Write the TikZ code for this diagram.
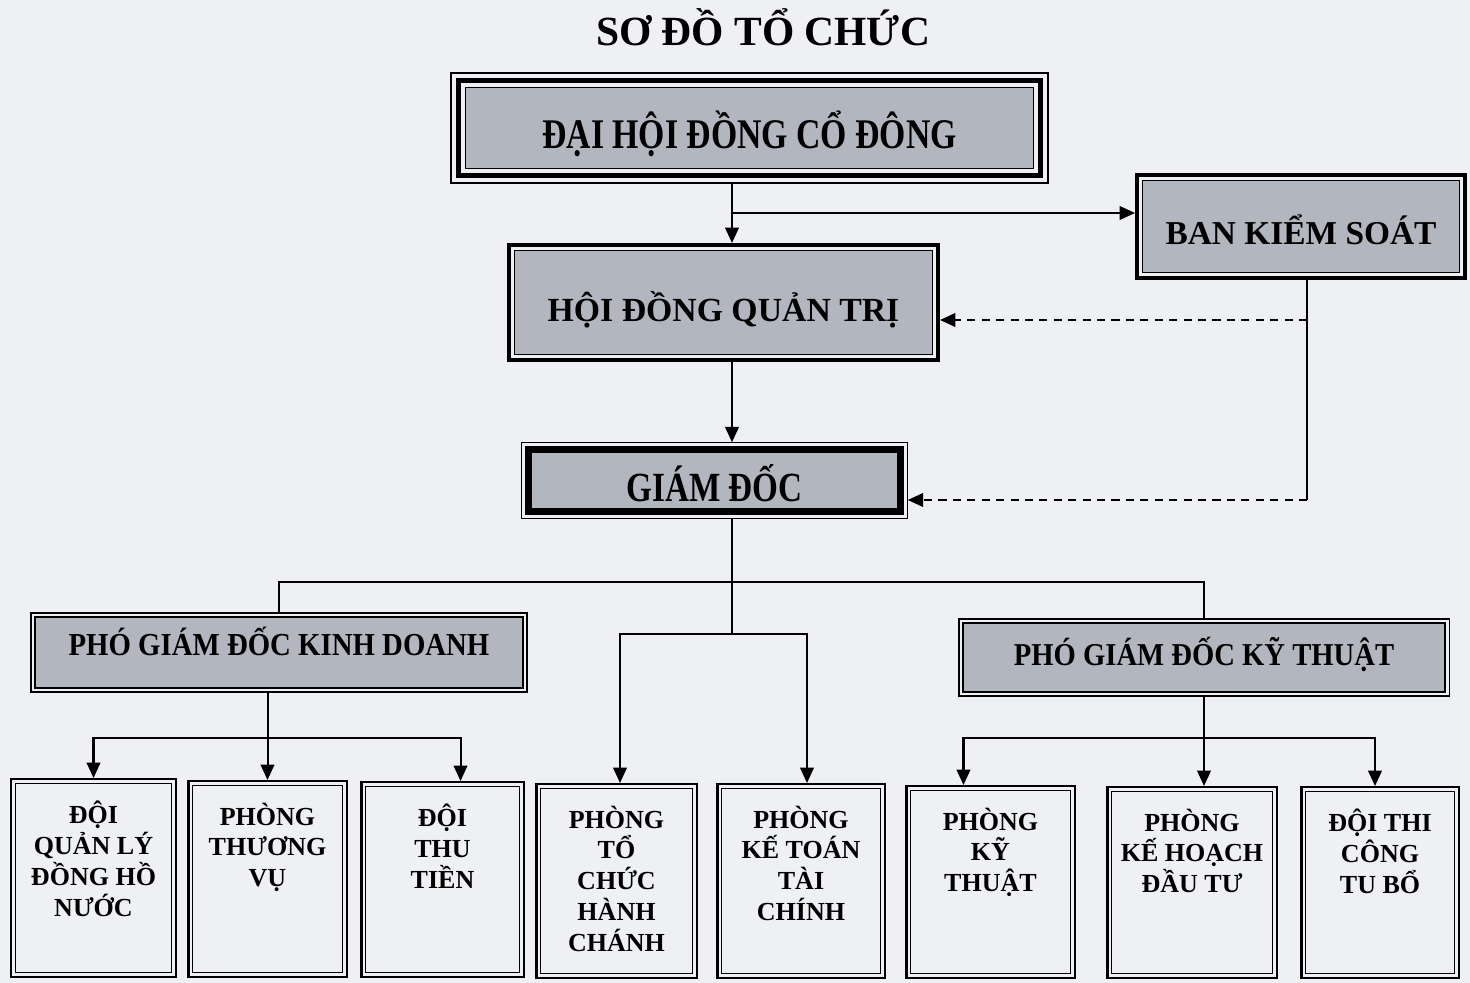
\documentclass[tikz,border=0pt]{standalone}
\usepackage{fontspec}
\setmainfont{Liberation Serif}
\newfontfamily\narrowfont{Liberation Serif}[FakeStretch=0.8]
\newfontfamily\semifont{Liberation Serif}[FakeStretch=0.9]
\usetikzlibrary{arrows.meta}

\definecolor{paper}{RGB}{238,240,243}
\definecolor{boxgrey}{RGB}{178,182,190}

\tikzset{
  wh/.style 2 args={minimum width=#1*0.01cm, minimum height=#2*0.01cm},
  greybox/.style={draw, fill=boxgrey, inner sep=0pt},
  unitbox/.style={draw, line width=0.71pt, inner sep=0pt},
  unitlabel/.style={anchor=north, yshift=-0.22cm, align=center, inner sep=0pt,
    font=\bfseries\fontsize{7.4}{8.8}\selectfont},
  link/.style={line width=0.57pt},
  arr/.style={link, -{Triangle[length=4.4pt,width=3.9pt]}},
  dashline/.style={dash pattern=on 2.3pt off 1.8pt},
  gap/.style={draw=paper, line width=#1},
  rim/.style={draw=black, line width=#1},
}

% inner frame of a box: node, inset, style
\newcommand{\frameat}[3]{\draw[#3] ([shift={(#2,#2)}]#1.north west) rectangle ([shift={(-#2,-#2)}]#1.south east);}

\begin{document}
\begin{tikzpicture}[x=0.01cm, y=-0.01cm]

  \fill[paper] (0,0) rectangle (1470,983);
  \useasboundingbox (0,0) rectangle (1470,983);

  \node[font=\bfseries\fontsize{11.8}{14}\selectfont, text height=7.8pt, text depth=0pt, inner sep=0pt]
    (title) at (763,31.5) {SƠ ĐỒ TỔ CHỨC};

  % upper boxes
  \node[greybox, line width=0.43pt, wh={597}{110}, text height=11.94pt, text depth=0pt,
    font=\narrowfont\bfseries\fontsize{12}{14}\selectfont] (agm) at (749.5,128) {ĐẠI HỘI ĐỒNG CỔ ĐÔNG};
  \frameat{agm}{8}{gap=3.7pt}
  \frameat{agm}{8.5}{rim=1.42pt}
  \frameat{agm}{15}{rim=0.34pt}

  \node[greybox, line width=2.28pt, wh={324}{99}, text height=9.99pt, text depth=0pt,
    font=\bfseries\fontsize{9.5}{11}\selectfont] (supv) at (1301,226.5) {BAN KIỂM SOÁT};
  \node[greybox, line width=2.28pt, wh={425}{111}, text height=10.6pt, text depth=0pt,
    font=\bfseries\fontsize{9.6}{11}\selectfont] (board) at (723.5,302.5) {HỘI ĐỒNG QUẢN TRỊ};
  \foreach \b in {supv,board} {
    \frameat{\b}{5.5}{gap=0.85pt}
    \frameat{\b}{7.5}{rim=0.34pt}
  }

  \node[greybox, line width=0.43pt, wh={385}{75}, text height=12.08pt, text depth=0pt,
    font=\narrowfont\bfseries\fontsize{11.8}{14}\selectfont] (dir) at (714.5,480.5) {GIÁM ĐỐC};
  \frameat{dir}{2.5}{gap=0.85pt}
  \frameat{dir}{7.5}{rim=2pt}

  \node[greybox, line width=0.85pt, wh={495}{78}, text height=6.02pt, text depth=4.27pt,
    font=\semifont\bfseries\fontsize{9.1}{11}\selectfont] (vpbiz) at (279,652.5) {PHÓ GIÁM ĐỐC KINH DOANH};
  \node[greybox, line width=0.85pt, wh={489}{76}, text height=5.99pt, text depth=1.6pt,
    font=\semifont\bfseries\fontsize{9.05}{11}\selectfont] (vptech) at (1204,657.5) {PHÓ GIÁM ĐỐC KỸ THUẬT};
  \foreach \b in {vpbiz,vptech} {
    \frameat{\b}{3}{gap=0.85pt}
    \frameat{\b}{5}{rim=0.43pt}
  }

  % departments
  \node[unitbox, wh={164.5}{197.5}, label={[unitlabel]north:ĐỘI\\QUẢN LÝ\\ĐỒNG HỒ\\NƯỚC}] (meter) at (93.5,878) {};
  \node[unitbox, wh={158.5}{195.5}, label={[unitlabel]north:PHÒNG\\THƯƠNG\\VỤ}] (trade) at (267.5,879) {};
  \node[unitbox, wh={162.5}{194.5}, label={[unitlabel]north:ĐỘI\\THU\\TIỀN}] (collect) at (442.5,879.5) {};
  \node[unitbox, wh={160.5}{193.5}, label={[unitlabel]north:PHÒNG\\TỔ\\CHỨC\\HÀNH\\CHÁNH}] (admin) at (616.5,881) {};
  \node[unitbox, wh={167.5}{193.5}, label={[unitlabel]north:PHÒNG\\KẾ TOÁN\\TÀI\\CHÍNH}] (acct) at (801,881) {};
  \node[unitbox, wh={168.5}{191.5}, label={[unitlabel]north:PHÒNG\\KỸ\\THUẬT}] (techdept) at (990.5,882) {};
  \node[unitbox, wh={169.5}{190.5}, label={[unitlabel]north:PHÒNG\\KẾ HOẠCH\\ĐẦU TƯ}] (plan) at (1192,882.5) {};
  \node[unitbox, wh={157.5}{190.5}, label={[unitlabel]north:ĐỘI THI\\CÔNG\\TU BỔ}] (build) at (1380,882.5) {};
  \foreach \u in {meter,trade,collect,admin,acct,techdept,plan,build} {
    \frameat{\u}{5.5}{rim=0.43pt}
  }

  % connectors
  \coordinate (spine) at (732,0);
  \coordinate (tap) at (732,213);
  \draw[arr] (agm.south -| spine) -- (board.north -| spine);
  \draw[arr] (tap) -- (tap -| supv.west);
  \draw[arr] (board.south -| spine) -- (dir.north -| spine);

  \coordinate (ctl) at (1307,320);
  \coordinate (ctlD) at (1307,500);
  \draw[link] (supv.south -| ctl) -- (ctlD);
  \draw[arr, dashline] (ctl) -- (ctl -| board.east);
  \draw[arr, dashline] (ctlD) -- (ctlD -| dir.east);

  \coordinate (bus) at (732,582);
  \coordinate (split) at (732,634);
  \draw[link] (dir.south -| spine) -- (split);
  \draw[link] (vpbiz.north) |- (bus) -| (vptech.north);
  \draw[arr] (split) -| ([xshift=0.035cm]admin.north);
  \draw[arr] (split) -| ([xshift=0.06cm]acct.north);

  \path (vpbiz.south -| trade.north) ++(0,45) coordinate (kd);
  \draw[arr] (vpbiz.south -| trade.north) -- (trade.north);
  \draw[arr] (kd) -| (meter.north);
  \draw[arr] (kd) -| ([xshift=0.18cm]collect.north);

  \coordinate (kt) at (vptech.south |- kd);
  \draw[arr] (vptech.south) -- (vptech.south |- plan.north);
  \draw[arr] (kt) -| ([xshift=-0.27cm]techdept.north);
  \draw[arr] (kt) -| ([xshift=-0.05cm]build.north);

\end{tikzpicture}
\end{document}
